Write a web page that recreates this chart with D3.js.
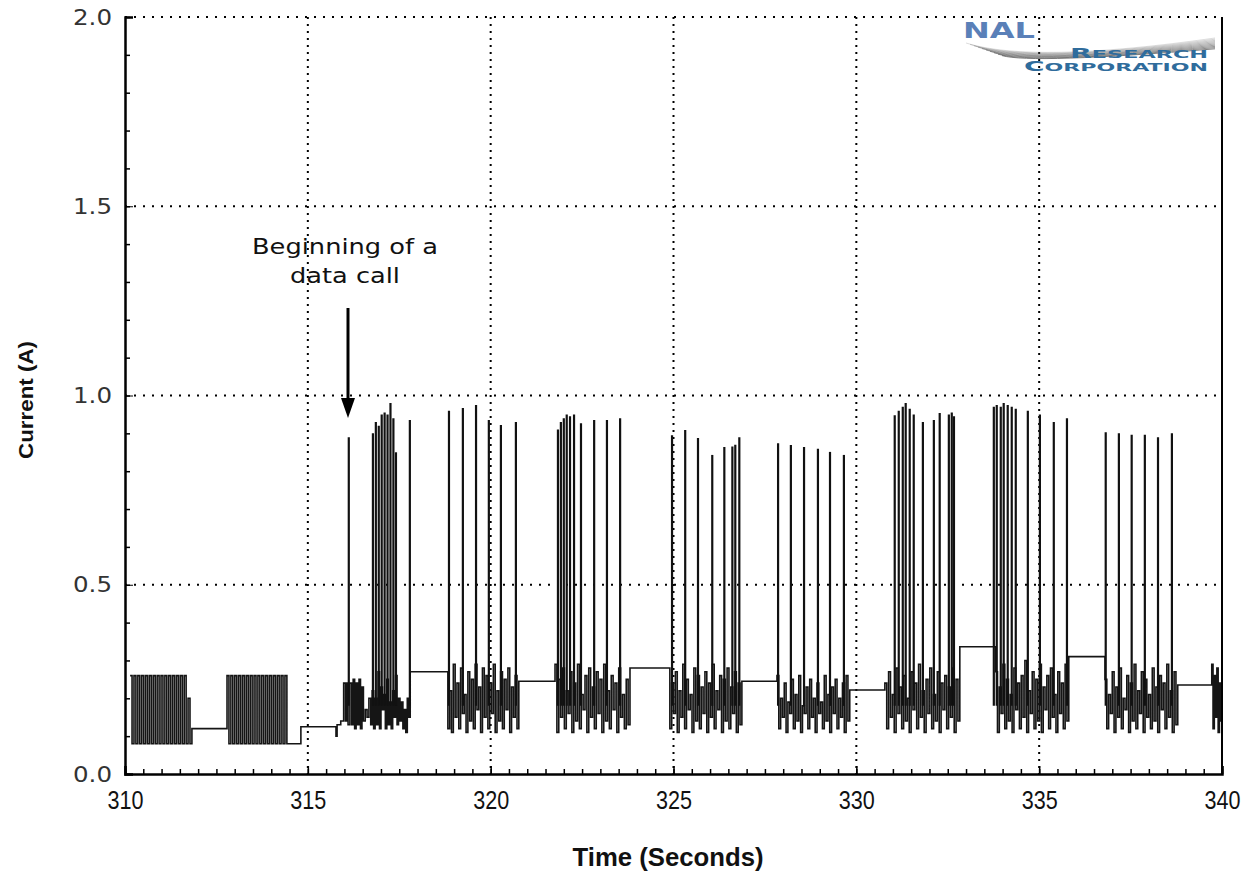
<!DOCTYPE html>
<html>
<head>
<meta charset="utf-8">
<script src="https://cdn.jsdelivr.net/npm/d3@7"></script>
<style>
  body { margin: 0; background: #fff; }
  svg { display: block; }
</style>
</head>
<body>
<svg id="chart" width="1247" height="877"></svg>
<script>
// axis ticks
var xTicks = [310, 315, 320, 325, 330, 335, 340];
var yTicks = [0, 0.5, 1.0, 1.5, 2.0];

// idle levels between bursts: [start, end, current]
var idleSteps = [
	[311.83, 312.79, 0.12],
	[314.48, 314.81, 0.08],
	[314.81, 315.77, 0.125],
	[317.80, 318.78, 0.27],
	[320.77, 321.76, 0.245],
	[323.81, 324.85, 0.28],
	[326.87, 327.83, 0.245],
	[329.82, 330.78, 0.222],
	[332.83, 333.81, 0.336],
	[335.81, 336.80, 0.31],
	[338.79, 339.72, 0.235]
];

// burst windows [start, end] and the levels read inside each
var burstTimes = [
	[310.14, 311.83],
	[312.79, 314.48],
	[318.78, 320.77],
	[321.76, 323.81],
	[324.85, 326.87],
	[327.83, 329.82],
	[330.78, 332.83],
	[333.81, 335.81],
	[336.80, 338.79],
	[339.72, 340.00]
];
var burstLevels = [
	[0.26,0.08,0.26,0.08,0.26,0.08,0.26,0.08,0.26,0.08,0.26,0.08,0.26,0.08,0.26,0.08,0.26,0.08,0.26,0.08,0.26,0.08,0.26,0.08,0.26,0.08,0.26,0.08,0.26,0.08,0.20,0.08],
	[0.26,0.08,0.26,0.08,0.26,0.08,0.26,0.08,0.26,0.08,0.26,0.08,0.26,0.08,0.26,0.08,0.26,0.08,0.26,0.08,0.26,0.08,0.26,0.08,0.26,0.08,0.26,0.08,0.26,0.08,0.26,0.08],
	[0.27,0.12,0.22,0.11,0.29,0.15,0.24,0.12,0.28,0.16,0.21,0.11,0.27,0.14,0.25,0.12,0.29,0.17,0.23,0.11,0.28,0.15,0.26,0.12,0.24,0.16,0.29,0.11,0.22,0.14,0.27,0.12,0.25,0.17,0.28,0.11,0.23,0.15,0.26,0.12],
	[0.29,0.11,0.25,0.15,0.28,0.12,0.22,0.16,0.27,0.11,0.24,0.14,0.29,0.12,0.21,0.17,0.26,0.11,0.28,0.15,0.23,0.12,0.27,0.16,0.25,0.11,0.29,0.14,0.22,0.12,0.26,0.17,0.24,0.11,0.28,0.15,0.21,0.12,0.25,0.13],
	[0.28,0.12,0.24,0.16,0.27,0.11,0.22,0.15,0.29,0.12,0.25,0.17,0.21,0.11,0.28,0.14,0.26,0.12,0.23,0.16,0.27,0.11,0.24,0.15,0.29,0.12,0.22,0.17,0.26,0.11,0.25,0.14,0.28,0.12,0.23,0.16,0.27,0.11,0.24,0.13],
	[0.26,0.12,0.20,0.15,0.24,0.11,0.19,0.16,0.25,0.12,0.21,0.14,0.26,0.11,0.18,0.16,0.23,0.12,0.25,0.15,0.20,0.11,0.24,0.16,0.19,0.12,0.26,0.14,0.21,0.11,0.23,0.16,0.25,0.12,0.20,0.15,0.24,0.11,0.26,0.14],
	[0.24,0.12,0.27,0.15,0.21,0.11,0.28,0.16,0.23,0.12,0.26,0.14,0.20,0.11,0.27,0.17,0.24,0.12,0.29,0.15,0.22,0.11,0.25,0.16,0.28,0.12,0.21,0.14,0.27,0.11,0.24,0.17,0.26,0.12,0.23,0.15,0.28,0.11,0.25,0.14],
	[0.27,0.11,0.23,0.16,0.29,0.12,0.25,0.14,0.21,0.11,0.28,0.17,0.24,0.12,0.26,0.15,0.30,0.11,0.22,0.16,0.27,0.12,0.25,0.14,0.29,0.11,0.23,0.17,0.26,0.12,0.28,0.15,0.21,0.11,0.27,0.16,0.24,0.12,0.29,0.14],
	[0.25,0.12,0.21,0.16,0.27,0.11,0.23,0.15,0.28,0.12,0.20,0.17,0.26,0.11,0.24,0.14,0.29,0.12,0.22,0.16,0.27,0.11,0.25,0.15,0.21,0.12,0.28,0.14,0.23,0.11,0.26,0.17,0.24,0.12,0.29,0.15,0.22,0.11,0.27,0.13],
	[0.29,0.12,0.26,0.15,0.28,0.11,0.24,0.14]
];

// irregular stretch where the data call starts: [time, current]
var callStart = [
	[315.77,0.10],[315.80,0.13],[315.90,0.14],[315.98,0.24],[316.03,0.14],[316.06,0.24],[316.10,0.13],
	[316.15,0.24],[316.20,0.13],[316.24,0.25],[316.28,0.12],[316.32,0.24],[316.36,0.13],[316.40,0.25],
	[316.44,0.12],[316.48,0.23],[316.52,0.14],[316.57,0.17],[316.62,0.15],[316.67,0.20],[316.72,0.13],
	[316.76,0.22],[316.80,0.12],[316.84,0.20],[316.88,0.13],[316.92,0.27],[316.96,0.12],[317.00,0.23],
	[317.04,0.17],[317.08,0.21],[317.12,0.12],[317.16,0.25],[317.20,0.13],[317.24,0.19],[317.28,0.12],
	[317.32,0.22],[317.36,0.15],[317.40,0.26],[317.44,0.13],[317.48,0.20],[317.52,0.14],[317.56,0.19],
	[317.60,0.12],[317.64,0.17],[317.68,0.11],[317.72,0.20],[317.76,0.15]
];

// transmit spikes: time and peak current
var spikeTimes = [
	316.12,
	316.78, 316.86, 316.94, 317.02, 317.10, 317.18, 317.26, 317.34, 317.41, 317.79,
	318.86, 319.24, 319.60, 319.95, 320.28, 320.69,
	321.84, 321.92, 322.00, 322.08, 322.17, 322.28, 322.47, 322.83, 323.18, 323.54,
	324.96, 325.32, 325.67, 326.06, 326.39, 326.61, 326.69, 326.80,
	327.86, 328.21, 328.57, 328.95, 329.28, 329.66,
	331.05, 331.16, 331.27, 331.35, 331.46, 331.57, 331.82, 332.12, 332.28, 332.53, 332.61, 332.67,
	333.76, 333.84, 333.95, 334.03, 334.14, 334.25, 334.36, 334.69, 335.02, 335.40, 335.76,
	336.82, 337.18, 337.53, 337.89, 338.25, 338.63
];
var spikePeaks = [
	0.89,
	0.90, 0.93, 0.92, 0.95, 0.955, 0.95, 0.98, 0.94, 0.85, 0.935,
	0.96, 0.967, 0.975, 0.935, 0.922, 0.93,
	0.91, 0.93, 0.94, 0.95, 0.945, 0.95, 0.927, 0.935, 0.935, 0.94,
	0.895, 0.909, 0.888, 0.843, 0.864, 0.865, 0.87, 0.89,
	0.874, 0.869, 0.864, 0.859, 0.851, 0.843,
	0.948, 0.96, 0.97, 0.98, 0.965, 0.95, 0.93, 0.935, 0.954, 0.95, 0.955, 0.945,
	0.97, 0.975, 0.97, 0.98, 0.975, 0.97, 0.965, 0.96, 0.95, 0.93, 0.94,
	0.903, 0.90, 0.896, 0.896, 0.89, 0.90
];

var margin = { left: 125, top: 17, right: 25, bottom: 103 };
var width = 1247 - margin.left - margin.right;
var height = 877 - margin.top - margin.bottom;

var svg = d3.select("#chart");
var g = svg.append("g").attr("transform", "translate(" + margin.left + "," + margin.top + ")");

var x = d3.scaleLinear().domain([310, 340]).range([0, width]);
var y = d3.scaleLinear().domain([0, 2]).range([height, 0]);

// dotted grid
g.selectAll(".vgrid").data(xTicks.slice(1, -1)).enter().append("line")
	.attr("x1", function (d) { return x(d); })
	.attr("x2", function (d) { return x(d); })
	.attr("y1", 0).attr("y2", height)
	.attr("stroke", "#000").attr("stroke-width", 2)
	.attr("stroke-dasharray", "2,5");
g.selectAll(".hgrid").data(yTicks.slice(1)).enter().append("line")
	.attr("x1", 0).attr("x2", width)
	.attr("y1", function (d) { return y(d); })
	.attr("y2", function (d) { return y(d); })
	.attr("stroke", "#000").attr("stroke-width", 2)
	.attr("stroke-dasharray", "2,7");

// build trace points
var points = [];
idleSteps.forEach(function (s) { points.push([s[0], s[2]]); });
burstTimes.forEach(function (b, i) {
	var lv = burstLevels[i];
	var dt = (b[1] - b[0]) / lv.length;
	lv.forEach(function (v, k) { points.push([b[0] + k * dt, v]); });
});
callStart.forEach(function (p) { points.push(p); });
points.sort(function (a, b) { return a[0] - b[0]; });
points.push([340, points[points.length - 1][1]]);

svg.append("clipPath").attr("id", "plotclip")
	.append("rect").attr("width", width).attr("height", height);

var line = d3.line()
	.x(function (d) { return x(d[0]); })
	.y(function (d) { return y(d[1]); })
	.curve(d3.curveStepAfter);

var plot = g.append("g").attr("clip-path", "url(#plotclip)");
plot.append("path")
	.datum(points)
	.attr("d", line)
	.attr("fill", "none")
	.attr("stroke", "#151515")
	.attr("stroke-width", 1.6);

plot.selectAll(".spike").data(spikeTimes).enter().append("line")
	.attr("x1", function (d) { return x(d); })
	.attr("x2", function (d) { return x(d); })
	.attr("y1", y(0.18))
	.attr("y2", function (d, i) { return y(spikePeaks[i]); })
	.attr("stroke", "#111")
	.attr("stroke-width", 2.2);

// axes
var xMinor = d3.range(310, 340.01, 0.5);
var yMinor = d3.range(0, 2.001, 0.1);

g.append("g").attr("transform", "translate(0," + height + ")")
	.call(d3.axisBottom(x).tickValues(xMinor).tickSize(-5).tickFormat(""))
	.call(function (a) { a.select(".domain").remove(); a.selectAll("line").attr("stroke-width", 1.5); });
var xAxis = g.append("g").attr("transform", "translate(0," + height + ")")
	.call(d3.axisBottom(x).tickValues(xTicks).tickSize(-8).tickPadding(17).tickFormat(d3.format("d")));
xAxis.select(".domain").attr("stroke-width", 2.5);
xAxis.selectAll("line").attr("stroke-width", 1.5);
xAxis.selectAll("text")
	.attr("font-family", "'Liberation Sans', Arial, sans-serif")
	.attr("font-size", 26).attr("fill", "#111")
	.attr("textLength", 36).attr("lengthAdjust", "spacingAndGlyphs");

g.append("g")
	.call(d3.axisLeft(y).tickValues(yMinor).tickSize(-5).tickFormat(""))
	.call(function (a) { a.select(".domain").remove(); a.selectAll("line").attr("stroke-width", 1.5); });
var yAxis = g.append("g")
	.call(d3.axisLeft(y).tickValues(yTicks).tickSize(-8).tickPadding(13).tickFormat(d3.format(".1f")));
yAxis.select(".domain").attr("stroke-width", 2.5);
yAxis.selectAll("text")
	.attr("font-family", "'DejaVu Sans', Verdana, sans-serif")
	.attr("font-size", 22).attr("fill", "#333")
	.attr("textLength", 39).attr("lengthAdjust", "spacingAndGlyphs");

// right border
g.append("line").attr("x1", width).attr("x2", width).attr("y1", 0).attr("y2", height)
	.attr("stroke", "#000").attr("stroke-width", 2);

// axis titles
svg.append("text")
	.attr("x", 668).attr("y", 866)
	.attr("text-anchor", "middle")
	.attr("font-family", "'Liberation Sans', Arial, sans-serif")
	.attr("font-weight", "bold").attr("font-size", 26).attr("fill", "#111")
	.attr("textLength", 191).attr("lengthAdjust", "spacingAndGlyphs")
	.text("Time (Seconds)");
svg.append("text")
	.attr("transform", "translate(33,400) rotate(-90)")
	.attr("text-anchor", "middle")
	.attr("font-family", "'Liberation Sans', Arial, sans-serif")
	.attr("font-weight", "bold").attr("font-size", 20).attr("fill", "#111")
	.attr("textLength", 118).attr("lengthAdjust", "spacingAndGlyphs")
	.text("Current (A)");

// annotation
var note = svg.append("text")
	.attr("text-anchor", "middle")
	.attr("font-family", "'DejaVu Sans', Verdana, sans-serif")
	.attr("font-size", 22).attr("fill", "#111");
note.append("tspan").attr("x", 345).attr("y", 254)
	.attr("textLength", 186).attr("lengthAdjust", "spacingAndGlyphs").text("Beginning of a");
note.append("tspan").attr("x", 345).attr("y", 283)
	.attr("textLength", 110).attr("lengthAdjust", "spacingAndGlyphs").text("data call");

svg.append("line").attr("x1", 348).attr("x2", 348).attr("y1", 308).attr("y2", 400)
	.attr("stroke", "#000").attr("stroke-width", 3);
svg.append("path").attr("d", "M341,398 L355,398 L348,418 Z").attr("fill", "#000");

// logo
var logo = svg.append("g");
for (var i = 0; i < 10; i++) {
	logo.append("path")
		.attr("d", "M" + (966 + i * 4) + "," + (43 + i * 1.4) + " Q1032,64 1215," + (38 + i * 1.2))
		.attr("fill", "none")
		.attr("stroke", "#555")
		.attr("stroke-opacity", 0.2 + i * 0.06)
		.attr("stroke-width", 1);
}
logo.append("text").attr("x", 963).attr("y", 38)
	.attr("font-family", "'DejaVu Sans', sans-serif").attr("font-weight", "bold")
	.attr("font-size", 21).attr("fill", "#5a80b8")
	.attr("textLength", 72).attr("lengthAdjust", "spacingAndGlyphs")
	.text("NAL");
var r1 = logo.append("text").attr("x", 1070).attr("y", 58)
	.attr("font-family", "'DejaVu Sans', sans-serif").attr("font-weight", "bold")
	.attr("fill", "#2f6c9c").attr("textLength", 138).attr("lengthAdjust", "spacingAndGlyphs");
r1.append("tspan").attr("font-size", 14).text("R");
r1.append("tspan").attr("font-size", 11).text("ESEARCH");
var r2 = logo.append("text").attr("x", 1024).attr("y", 71)
	.attr("font-family", "'DejaVu Sans', sans-serif").attr("font-weight", "bold")
	.attr("fill", "#2f6c9c").attr("textLength", 184).attr("lengthAdjust", "spacingAndGlyphs");
r2.append("tspan").attr("font-size", 14).text("C");
r2.append("tspan").attr("font-size", 11).text("ORPORATION");
</script>
</body>
</html>
